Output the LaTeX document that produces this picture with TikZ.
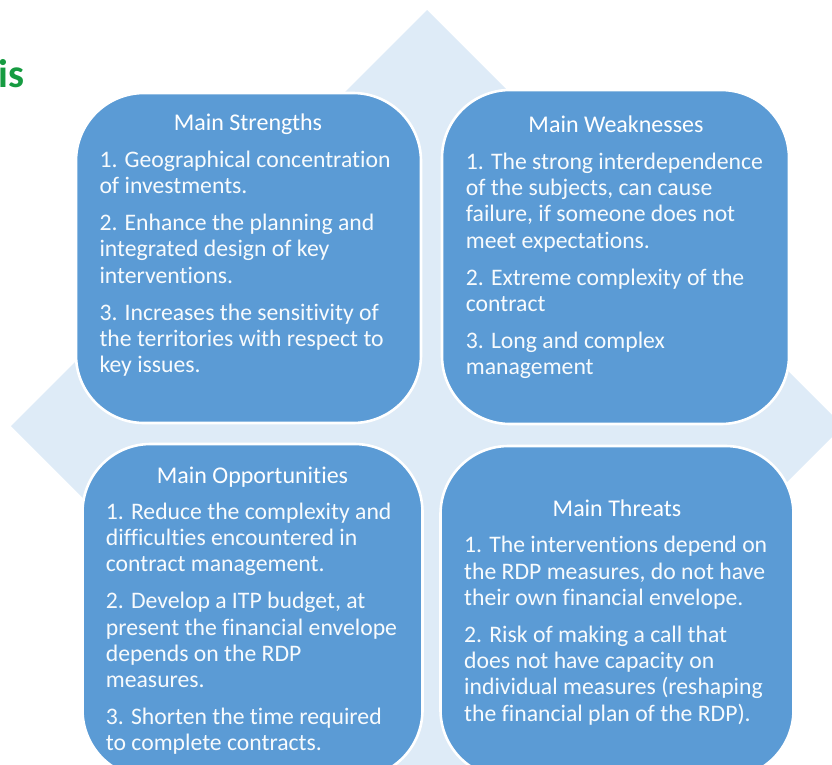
\documentclass[tikz,border=0pt]{standalone}
\usepackage{fontspec}
\setmainfont{Carlito}[Ligatures=NoCommon]
\definecolor{boxblue}{RGB}{91,155,213}
\definecolor{diamblue}{RGB}{222,235,247}
\definecolor{titlegreen}{RGB}{22,155,65}
\newcommand\linesbox[1]{\vtop{\baselineskip=26.3pt\lineskiplimit=-100pt\lineskip=0pt #1}}
\newcommand\mygap{\vskip10.6pt}
\tikzset{
  card/.style={rectangle, rounded corners=68pt, draw=white, line width=2.6pt, fill=boxblue, inner sep=0pt},
  cardtitle/.style={anchor=base, inner sep=0pt, text=white, font=\fontsize{24}{28}\selectfont},
  bodytext/.style={anchor=base west, inner sep=0pt, text=white!96!boxblue, font=\fontsize{23.7}{26.3}\selectfont},
  headtext/.style={anchor=base west, inner sep=0pt, text=titlegreen, font=\fontsize{40}{46}\selectfont\bfseries}
}
\begin{document}
\begin{tikzpicture}[x=1pt,y=-1pt]
\useasboundingbox (0,0) rectangle (832,764);
\clip (0,0) rectangle (832,764);
\fill[diamblue] (427,10) -- (843,426) -- (427,842) -- (11,426) -- cycle;
\node[headtext] (head) at (-1.5,87.3) {is};
% boxes
\node[card, minimum width=345pt, minimum height=330pt] (S) at (248.5,258) {};
\node[card, minimum width=347pt, minimum height=334pt] (W) at (615.5,257) {};
\node[card, minimum width=340pt, minimum height=334pt] (O) at (252.5,611) {};
\node[card, minimum width=353pt, minimum height=332pt] (T) at (617,612) {};
% titles
\node[cardtitle] (St) at (248,130.7) {Main Strengths};
\node[cardtitle] (Wt) at (616,132.3) {Main Weaknesses};
\node[cardtitle] (Ot) at (252.5,483.3) {Main Opportunities};
\node[cardtitle] (Tt) at (617,516.7) {Main Threats};
% bodies
\node[bodytext] (Sb) at (99.3,167.3) {\linesbox{%
\hbox{1. Geographical concentration}
\hbox{of investments.}
\mygap
\hbox{2. Enhance the planning and}
\hbox{integrated design of key}
\hbox{interventions.}
\mygap
\hbox{3. Increases the sensitivity of}
\hbox{the territories with respect to}
\hbox{key issues.}}};
\node[bodytext] (Wb) at (465.7,169.3) {\linesbox{%
\hbox{1. The strong interdependence}
\hbox{of the subjects, can cause}
\hbox{failure, if someone does not}
\hbox{meet expectations.}
\mygap
\hbox{2. Extreme complexity of the}
\hbox{contract}
\mygap
\hbox{3. Long and complex}
\hbox{management}}};
\node[bodytext] (Ob) at (105.7,519.3) {\linesbox{%
\hbox{1. Reduce the complexity and}
\hbox{difficulties encountered in}
\hbox{contract management.}
\mygap
\hbox{2. Develop a ITP budget, at}
\hbox{present the financial envelope}
\hbox{depends on the RDP}
\hbox{measures.}
\mygap
\hbox{3. Shorten the time required}
\hbox{to complete contracts.}}};
\node[bodytext] (Tb) at (464,552.7) {\linesbox{%
\hbox{1. The interventions depend on}
\hbox{the RDP measures, do not have}
\hbox{their own financial envelope.}
\mygap
\hbox{2. Risk of making a call that}
\hbox{does not have capacity on}
\hbox{individual measures (reshaping}
\hbox{the financial plan of the RDP).}}};
\end{tikzpicture}
\end{document}
